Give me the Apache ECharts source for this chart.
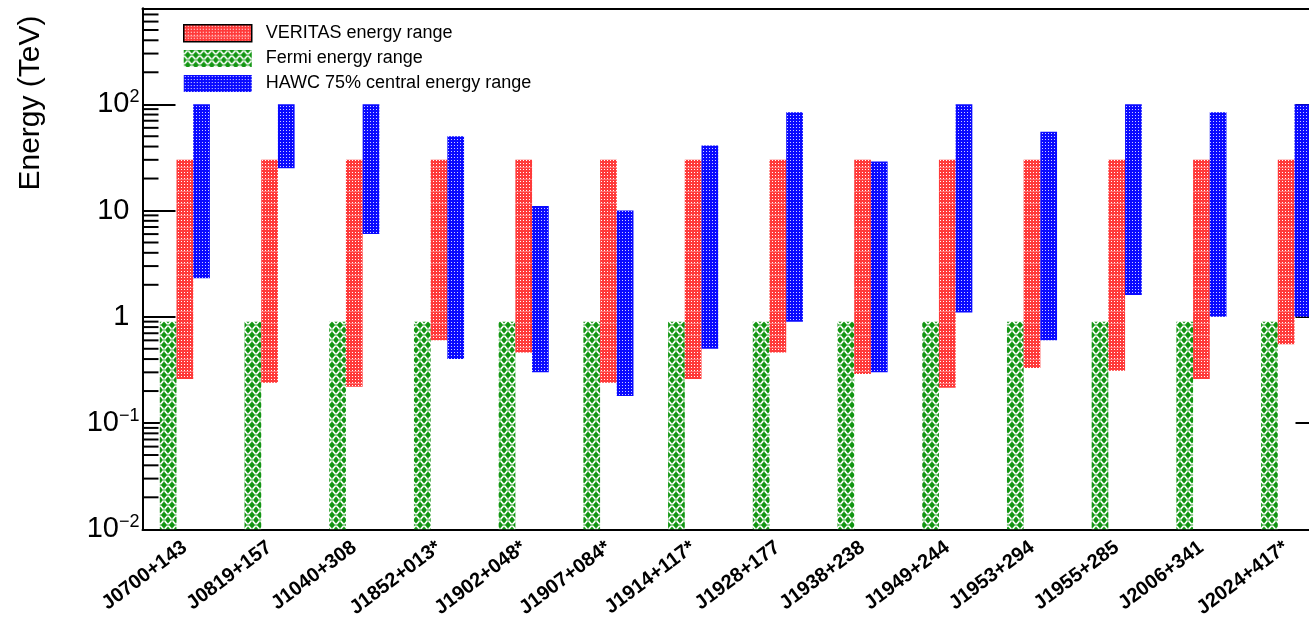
<!DOCTYPE html>
<html>
<head>
<meta charset="utf-8">
<script src="https://cdn.jsdelivr.net/npm/echarts@6/dist/echarts.min.js"></script>
<style>
html,body{margin:0;padding:0;background:#fff;}
#chart{width:1309px;height:622px;}
</style>
</head>
<body>
<div id="chart"></div>
<script>
// ---- data ----
var sources = ['J0700+143','J0819+157','J1040+308','J1852+013*','J1902+048*','J1907+084*','J1914+117*','J1928+177','J1938+238','J1949+244','J1953+294','J1955+285','J2006+341','J2024+417*'];
var fermiLow  = [0.01,0.01,0.01,0.01,0.01,0.01,0.01,0.01,0.01,0.01,0.01,0.01,0.01,0.01];
var fermiHigh = [0.9,0.9,0.9,0.9,0.9,0.9,0.9,0.9,0.9,0.9,0.9,0.9,0.9,0.9];
var veritasLow  = [0.26,0.24,0.22,0.6,0.46,0.24,0.26,0.46,0.29,0.215,0.33,0.31,0.26,0.55];
var veritasHigh = [30,30,30,30,30,30,30,30,30,30,30,30,30,30];
var hawcLow  = [2.3,25,6.0,0.40,0.30,0.18,0.5,0.9,0.30,1.1,0.6,1.6,1.0,1.0];
var hawcHigh = [100,100,100,50,11,10,41,84,29,100,55,100,84,100];
var yTickValues = [0.01, 0.1, 1, 10, 100];
var yTickLabels = ['10{sup|\u22122}', '10{sup|\u22121}', '{b|1}', '{b|10}', '10{sup|2}'];
var legendNames = ['VERITAS energy range', 'Fermi energy range', 'HAWC 75% central energy range'];

// ---- patterns ----
function makeTile(w, h, draw) {
  var c = document.createElement('canvas');
  c.width = w; c.height = h;
  var ctx = c.getContext('2d');
  draw(ctx, w, h);
  return {image: c, repeat: 'repeat'};
}
var redPattern = makeTile(6, 12, function (ctx, w, h) {
  ctx.fillStyle = '#ff3a3a'; ctx.fillRect(0, 0, w, h);
  ctx.fillStyle = '#ffffff';
  for (var y = 1; y < h; y += 3) {
    for (var x = 1; x < w; x += 3) ctx.fillRect(x, y, 1, 1);
  }
  ctx.fillStyle = 'rgba(255,255,255,0.3)';
  ctx.fillRect(0, 11, w, 1);
});
var bluePattern = makeTile(6, 6, function (ctx, w, h) {
  ctx.fillStyle = '#0a0aff'; ctx.fillRect(0, 0, w, h);
  ctx.fillStyle = 'rgba(255,255,255,0.8)';
  for (var y = 1; y < h; y += 3) {
    for (var x = 1; x < w; x += 3) ctx.fillRect(x, y, 1, 1);
  }
});
var greenPattern = makeTile(8, 10, function (ctx, w, h) {
  ctx.fillStyle = '#ffffff'; ctx.fillRect(0, 0, w, h);
  ctx.fillStyle = '#129612';
  ctx.beginPath();
  ctx.moveTo(4, 1.4); ctx.lineTo(7.2, 5); ctx.lineTo(4, 8.6); ctx.lineTo(0.8, 5); ctx.closePath();
  ctx.fill();
  var corners = [[0, 0], [8, 0], [0, 10], [8, 10]];
  corners.forEach(function (p) {
    ctx.beginPath();
    ctx.moveTo(p[0], p[1] - 3.4); ctx.lineTo(p[0] + 3.0, p[1]); ctx.lineTo(p[0], p[1] + 3.4); ctx.lineTo(p[0] - 3.0, p[1]); ctx.closePath();
    ctx.fill();
  });
  ctx.strokeStyle = '#3aa83a'; ctx.lineWidth = 1;
  ctx.beginPath();
  ctx.moveTo(0, 5); ctx.lineTo(1, 5);
  ctx.moveTo(7, 5); ctx.lineTo(8, 5);
  ctx.moveTo(4, 0); ctx.lineTo(4, 1.5);
  ctx.moveTo(4, 8.5); ctx.lineTo(4, 10);
  ctx.stroke();
});

// ---- derived ----
function diff(hi, lo) { return hi.map(function (v, i) { return v - lo[i]; }); }
var minorTicks = [];
for (var d = -2; d <= 2; d++) {
  for (var k = 2; k <= 9; k++) {
    var v = k * Math.pow(10, d);
    if (v < 800) minorTicks.push([0, v]);
  }
}

var chart = echarts.init(document.getElementById('chart'), null, {renderer: 'canvas'});
var FONT = '"Liberation Sans", Arial, Helvetica, sans-serif';
var BW = 16.7;

function baseSeries(stack, data) {
  return {type: 'bar', stack: stack, data: data, barWidth: BW, barGap: '0%', silent: true,
          itemStyle: {color: 'rgba(0,0,0,0)'}, emphasis: {disabled: true}};
}
function visSeries(name, stack, data, color) {
  return {type: 'bar', name: name, stack: stack, data: data, barWidth: BW, barGap: '0%',
          itemStyle: {color: color}, emphasis: {disabled: true}};
}

var option = {
  animation: false,
  backgroundColor: '#fff',
  grid: {left: 142.5, top: 8.3, width: 1186, height: 521, containLabel: false, outerBoundsMode: 'none'},
  legend: {
    orient: 'vertical', left: 183, top: 24, padding: 0, icon: 'rect',
    itemWidth: 68, itemHeight: 17, itemGap: 7,
    selectedMode: false,
    textStyle: {fontFamily: FONT, fontSize: 18, color: '#000', padding: [0, 0, 0, 9]},
    data: [
      {name: legendNames[0], itemStyle: {borderColor: '#000', borderWidth: 1.5}},
      {name: legendNames[1]},
      {name: legendNames[2]}
    ]
  },
  xAxis: [{
    type: 'category', data: sources, position: 'bottom',
    axisLine: {lineStyle: {color: '#000', width: 2}},
    axisTick: {inside: true, length: 16, alignWithLabel: true, lineStyle: {color: '#000', width: 2}},
    axisLabel: {interval: 0, rotate: 37, margin: 16, fontFamily: FONT, fontSize: 20, fontWeight: 'bold', color: '#000'}
  }, {
    type: 'category', data: sources, position: 'top',
    axisLine: {lineStyle: {color: '#000', width: 2}},
    axisTick: {inside: true, length: 16, alignWithLabel: true, lineStyle: {color: '#000', width: 2}},
    axisLabel: {show: false}
  }],
  yAxis: [{
    type: 'log', logBase: 10, min: 0.01, max: 800, position: 'left',
    axisLine: {show: true, lineStyle: {color: '#000', width: 2}},
    axisTick: {show: true, inside: true, length: 33, lineStyle: {color: '#000', width: 2}},
    splitLine: {show: false},
    axisLabel: {
      margin: 3,
      fontFamily: FONT, fontSize: 29, color: '#000',
      formatter: function (val) {
        for (var i = 0; i < yTickValues.length; i++) {
          if (Math.abs(Math.log10(val) - Math.log10(yTickValues[i])) < 1e-6) return yTickLabels[i];
        }
        return '';
      },
      rich: {
        sup: {fontFamily: FONT, fontSize: 18, color: '#000', padding: [0, 0, 14, 0]},
        b: {fontFamily: FONT, fontSize: 29, color: '#000', padding: [0, 10, 0, 0]}
      }
    }
  }, {
    type: 'log', logBase: 10, min: 0.01, max: 800, position: 'right',
    axisLine: {show: true, lineStyle: {color: '#000', width: 2}},
    axisTick: {show: true, inside: true, length: 33, lineStyle: {color: '#000', width: 2}},
    splitLine: {show: false},
    axisLabel: {show: false}
  }],
  graphic: [{
    type: 'text', x: 31, y: 103, rotation: Math.PI / 2,
    style: {text: 'Energy (TeV)', fontFamily: FONT, fontSize: 30, fill: '#000', textAlign: 'center', textVerticalAlign: 'middle'}
  }],
  series: [
    baseSeries('fermi', fermiLow),
    visSeries(legendNames[1], 'fermi', diff(fermiHigh, fermiLow), greenPattern),
    baseSeries('veritas', veritasLow),
    visSeries(legendNames[0], 'veritas', diff(veritasHigh, veritasLow), redPattern),
    baseSeries('hawc', hawcLow),
    visSeries(legendNames[2], 'hawc', diff(hawcHigh, hawcLow), bluePattern),
    {
      type: 'custom', silent: true, clip: false, data: minorTicks, encode: {x: 0, y: 1}, z: 5,
      renderItem: function (params, api) {
        var y = api.coord([api.value(0), api.value(1)])[1];
        var cs = params.coordSys;
        return {type: 'group', children: [
          {type: 'line', shape: {x1: cs.x, y1: y, x2: cs.x + 16, y2: y}, style: {stroke: '#000', lineWidth: 2}},
          {type: 'line', shape: {x1: cs.x + cs.width - 16, y1: y, x2: cs.x + cs.width, y2: y}, style: {stroke: '#000', lineWidth: 2}}
        ]};
      }
    }
  ]
};
chart.setOption(option);
</script>
</body>
</html>
